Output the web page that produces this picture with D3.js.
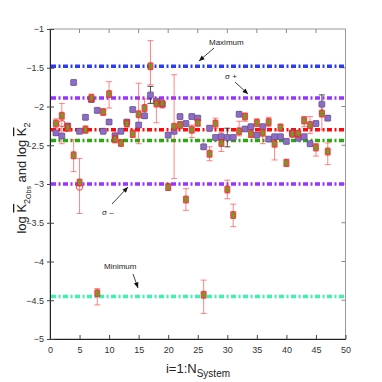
<!DOCTYPE html>
<html>
<head>
<meta charset="utf-8">
<script src="https://cdn.jsdelivr.net/npm/d3@7"></script>
<style>
  body { margin: 0; background: #fff; }
  text { font-family: "Liberation Sans", Arial, sans-serif; }
</style>
</head>
<body>
<div id="container"></div>
<script>
let width = 382;
let height = 382;

// system index i = 1..47
let idx = d3.range(1, 48);

// observed log K2Obs (red/green markers) with error bar ends
let obs = [-2.22, -2.12, -2.27, -2.63, -2.98, -2.30, -1.89, -4.41, -2.07, -1.84,
    -2.42, -2.47, -2.22, -2.35, -2.10, -2.02, -1.48, -1.96, -1.96, -3.04,
    -2.26, -2.24, -3.20, -2.30, -2.21, -4.43, -2.61, -2.22, -2.47, -3.07,
    -3.40, -2.32, -2.13, -2.35, -2.21, -2.34, -2.20, -2.48, -2.27, -2.73,
    -2.35, -2.35, -2.18, -2.24, -2.53, -2.09, -2.58];
let obsHi = [-2.16, -1.96, -2.22, -2.43, -2.67, -2.25, -1.84, -4.35, -2.04, -1.68,
    -2.33, -2.44, -2.18, -2.30, -1.70, -1.90, -1.15, -1.92, -1.94, -3.00,
    -1.59, -2.20, -3.06, -2.24, -2.17, -4.24, -2.52, -2.15, -2.33, -2.95,
    -3.26, -2.19, -2.09, -2.30, -2.16, -2.26, -2.14, -2.39, -2.23, -2.68,
    -2.31, -2.31, -2.13, -2.13, -2.48, -2.06, -2.47];
let obsLo = [-2.28, -2.48, -2.32, -2.84, -3.38, -2.34, -1.94, -4.56, -2.10, -2.02,
    -2.47, -2.50, -2.26, -2.40, -2.48, -2.15, -1.72, -2.21, -2.02, -3.08,
    -2.93, -2.28, -3.34, -2.40, -2.25, -4.67, -2.70, -2.28, -2.58, -3.19,
    -3.55, -2.38, -2.19, -2.40, -2.26, -2.48, -2.26, -2.69, -2.31, -2.77,
    -2.39, -2.39, -2.26, -2.35, -2.64, -2.30, -2.75];

// computed log K2 (purple squares) with error
let model = [-2.34, -2.38, -2.25, -1.69, -2.32, -2.14, -1.91, -2.05, -2.32, -2.20,
    -2.38, -2.32, -2.20, -2.04, -2.24, -2.12, -1.85, -1.93, -1.97, -2.37,
    -2.32, -2.13, -2.22, -2.13, -2.15, -2.52, -2.28, -2.40, -2.39, -2.40,
    -2.40, -2.10, -2.29, -2.26, -2.37, -2.26, -2.42, -2.39, -2.39, -2.45,
    -2.34, -2.41, -2.39, -2.48, -2.22, -1.97, -2.15];
let modelErr = [0.03, 0.03, 0.03, 0.03, 0.03, 0.03, 0.03, 0.03, 0.03, 0.03,
    0.03, 0.03, 0.03, 0.03, 0.03, 0.03, 0.11, 0.03, 0.03, 0.03,
    0.03, 0.03, 0.03, 0.03, 0.03, 0.03, 0.03, 0.03, 0.03, 0.12,
    0.03, 0.03, 0.03, 0.03, 0.03, 0.03, 0.03, 0.03, 0.03, 0.03,
    0.03, 0.03, 0.03, 0.03, 0.03, 0.12, 0.03];

// open circles
let circIdx = [2, 5];
let circVal = [-2.22, -3.04];

// reference levels
let refNames = ["Maximum", "sigmaPlus", "mean", "median", "sigmaMinus", "Minimum"];
let refVals = [-1.48, -1.89, -2.30, -2.44, -3.00, -4.45];
let refColors = ["#2b3df2", "#9933ff", "#ff0a0a", "#2aa810", "#9933ff", "#3ff2b2"];

let xTicks = d3.range(0, 51, 5);
let yTicks = [-1, -1.5, -2, -2.5, -3, -3.5, -4, -4.5, -5];

let svg = d3.select("#container")
    .append("svg")
    .attr("width", width)
    .attr("height", height);

let x = d3.scaleLinear().domain([0, 50]).range([50, 345.5]);
let y = d3.scaleLinear().domain([-5, -1]).range([339, 29]);

// frame
svg.append("rect")
    .attr("x", x(0)).attr("y", y(-1))
    .attr("width", x(50) - x(0)).attr("height", y(-5) - y(-1))
    .attr("fill", "none").attr("stroke", "#999").attr("stroke-width", 1);

// top / right ticks
svg.selectAll(".tt").data(xTicks.slice(1, -1)).enter().append("line")
    .attr("x1", d => x(d)).attr("x2", d => x(d))
    .attr("y1", y(-1)).attr("y2", y(-1) + 4)
    .attr("stroke", "#888");
svg.selectAll(".rt").data(yTicks.slice(1, -1)).enter().append("line")
    .attr("x1", x(50)).attr("x2", x(50) - 4)
    .attr("y1", d => y(d)).attr("y2", d => y(d))
    .attr("stroke", "#888");

// bottom axis
let xAxis = svg.append("g")
    .attr("transform", "translate(0," + y(-5) + ")")
    .call(d3.axisBottom(x).tickValues(xTicks).tickSizeInner(-4).tickSizeOuter(0).tickPadding(8));
xAxis.select(".domain").attr("stroke", "#222");
xAxis.selectAll(".tick line").attr("stroke", "#444");
xAxis.selectAll("text").attr("font-size", 9).attr("fill", "#333");

// left axis
let yAxis = svg.append("g")
    .attr("transform", "translate(" + x(0) + ",0)")
    .call(d3.axisLeft(y).tickValues(yTicks).tickFormat(d3.format("")).tickSizeInner(-4).tickSizeOuter(0).tickPadding(6));
yAxis.select(".domain").attr("stroke", "#222");
yAxis.selectAll(".tick line").attr("stroke", "#444");
yAxis.selectAll("text").attr("font-size", 9).attr("fill", "#333");
yAxis.selectAll(".tick").append("line")
    .attr("x1", -3).attr("x2", 0).attr("stroke", "#444");

// reference lines
svg.selectAll(".ref").data(refVals).enter().append("line")
    .attr("class", "ref")
    .attr("x1", x(0) + 1).attr("x2", x(50) - 1)
    .attr("y1", d => y(d)).attr("y2", d => y(d))
    .attr("stroke", (d, i) => refColors[i])
    .attr("stroke-width", 3.5)
    .attr("stroke-dasharray", "5,2.5,2,2.5");

let pts = idx.map((d, i) => ({ i: d, o: obs[i], hi: obsHi[i], lo: obsLo[i], m: model[i], e: modelErr[i] }));

// observed error bars
let eb = svg.append("g").attr("stroke", "#ff3333").attr("stroke-opacity", 0.6).attr("stroke-width", 1);
pts.forEach(p => {
    eb.append("line").attr("x1", x(p.i)).attr("x2", x(p.i)).attr("y1", y(p.hi)).attr("y2", y(p.lo));
    eb.append("line").attr("x1", x(p.i) - 3).attr("x2", x(p.i) + 3).attr("y1", y(p.hi)).attr("y2", y(p.hi));
    eb.append("line").attr("x1", x(p.i) - 3).attr("x2", x(p.i) + 3).attr("y1", y(p.lo)).attr("y2", y(p.lo));
});

// model error bars
let mb = svg.append("g").attr("stroke", "#222").attr("stroke-width", 0.8);
pts.forEach(p => {
    mb.append("line").attr("x1", x(p.i)).attr("x2", x(p.i)).attr("y1", y(p.m + p.e)).attr("y2", y(p.m - p.e));
    mb.append("line").attr("x1", x(p.i) - 3).attr("x2", x(p.i) + 3).attr("y1", y(p.m + p.e)).attr("y2", y(p.m + p.e));
    mb.append("line").attr("x1", x(p.i) - 3).attr("x2", x(p.i) + 3).attr("y1", y(p.m - p.e)).attr("y2", y(p.m - p.e));
});

// model markers
svg.selectAll(".model").data(pts).enter().append("rect")
    .attr("class", "model")
    .attr("x", d => x(d.i) - 3).attr("y", d => y(d.m) - 3)
    .attr("width", 6).attr("height", 6).attr("rx", 1)
    .attr("fill", "#8c6cc4").attr("stroke", "#5a4a80").attr("stroke-width", 0.6);

// open circles
svg.selectAll(".circ").data(circIdx).enter().append("circle")
    .attr("cx", d => x(d)).attr("cy", (d, i) => y(circVal[i]))
    .attr("r", 3.2).attr("fill", "none").attr("stroke", "#ff3030").attr("stroke-width", 0.9);

// observed markers
svg.selectAll(".obs").data(pts).enter().append("rect")
    .attr("class", "obs")
    .attr("x", d => x(d.i) - 3).attr("y", d => y(d.o) - 4)
    .attr("width", 6).attr("height", 8).attr("rx", 1.5)
    .attr("fill", "#ee2a2a").attr("fill-opacity", 0.85);
svg.selectAll(".obsIn").data(pts).enter().append("rect")
    .attr("x", d => x(d.i) - 1.5).attr("y", d => y(d.o) - 2.5)
    .attr("width", 3).attr("height", 5)
    .attr("fill", "#6aa020");

// annotations
function arrow(x1, y1, x2, y2) {
    svg.append("line").attr("x1", x1).attr("y1", y1).attr("x2", x2).attr("y2", y2)
        .attr("stroke", "#111").attr("stroke-width", 0.8);
    let a = Math.atan2(y2 - y1, x2 - x1);
    let L = 6, w = 0.4;
    let p = [[x2, y2],
        [x2 - L * Math.cos(a - w), y2 - L * Math.sin(a - w)],
        [x2 - L * Math.cos(a + w), y2 - L * Math.sin(a + w)]];
    svg.append("path").attr("d", "M" + p.join("L") + "Z").attr("fill", "#111");
}
let ann = svg.append("g").attr("font-size", 8).attr("fill", "#222");
ann.append("text").attr("x", 209).attr("y", 45).text("Maximum");
arrow(214, 48, 199, 61);
ann.append("text").attr("x", 225).attr("y", 79).text("σ +");
arrow(235, 82, 248, 94);
ann.append("text").attr("x", 102).attr("y", 215).text("σ –");
arrow(112, 204, 128, 187);
ann.append("text").attr("x", 104).attr("y", 269).text("Minimum");
arrow(133, 274, 138, 288);

// axis labels
svg.append("text")
    .attr("x", 198).attr("y", 373)
    .attr("text-anchor", "middle")
    .attr("font-size", 13).attr("fill", "#222")
    .html('i=1:N<tspan font-size="10" dy="4">System</tspan>');

svg.append("text")
    .attr("transform", "translate(26,178) rotate(-90)")
    .attr("text-anchor", "middle")
    .attr("font-size", 13).attr("fill", "#222")
    .html('log <tspan style="text-decoration: overline">K</tspan><tspan font-size="9" dy="4">2</tspan><tspan font-size="7" dy="1">Obs</tspan><tspan dy="-5">  and log </tspan><tspan style="text-decoration: overline">K</tspan><tspan font-size="9" dy="4">2</tspan>');
</script>
</body>
</html>
